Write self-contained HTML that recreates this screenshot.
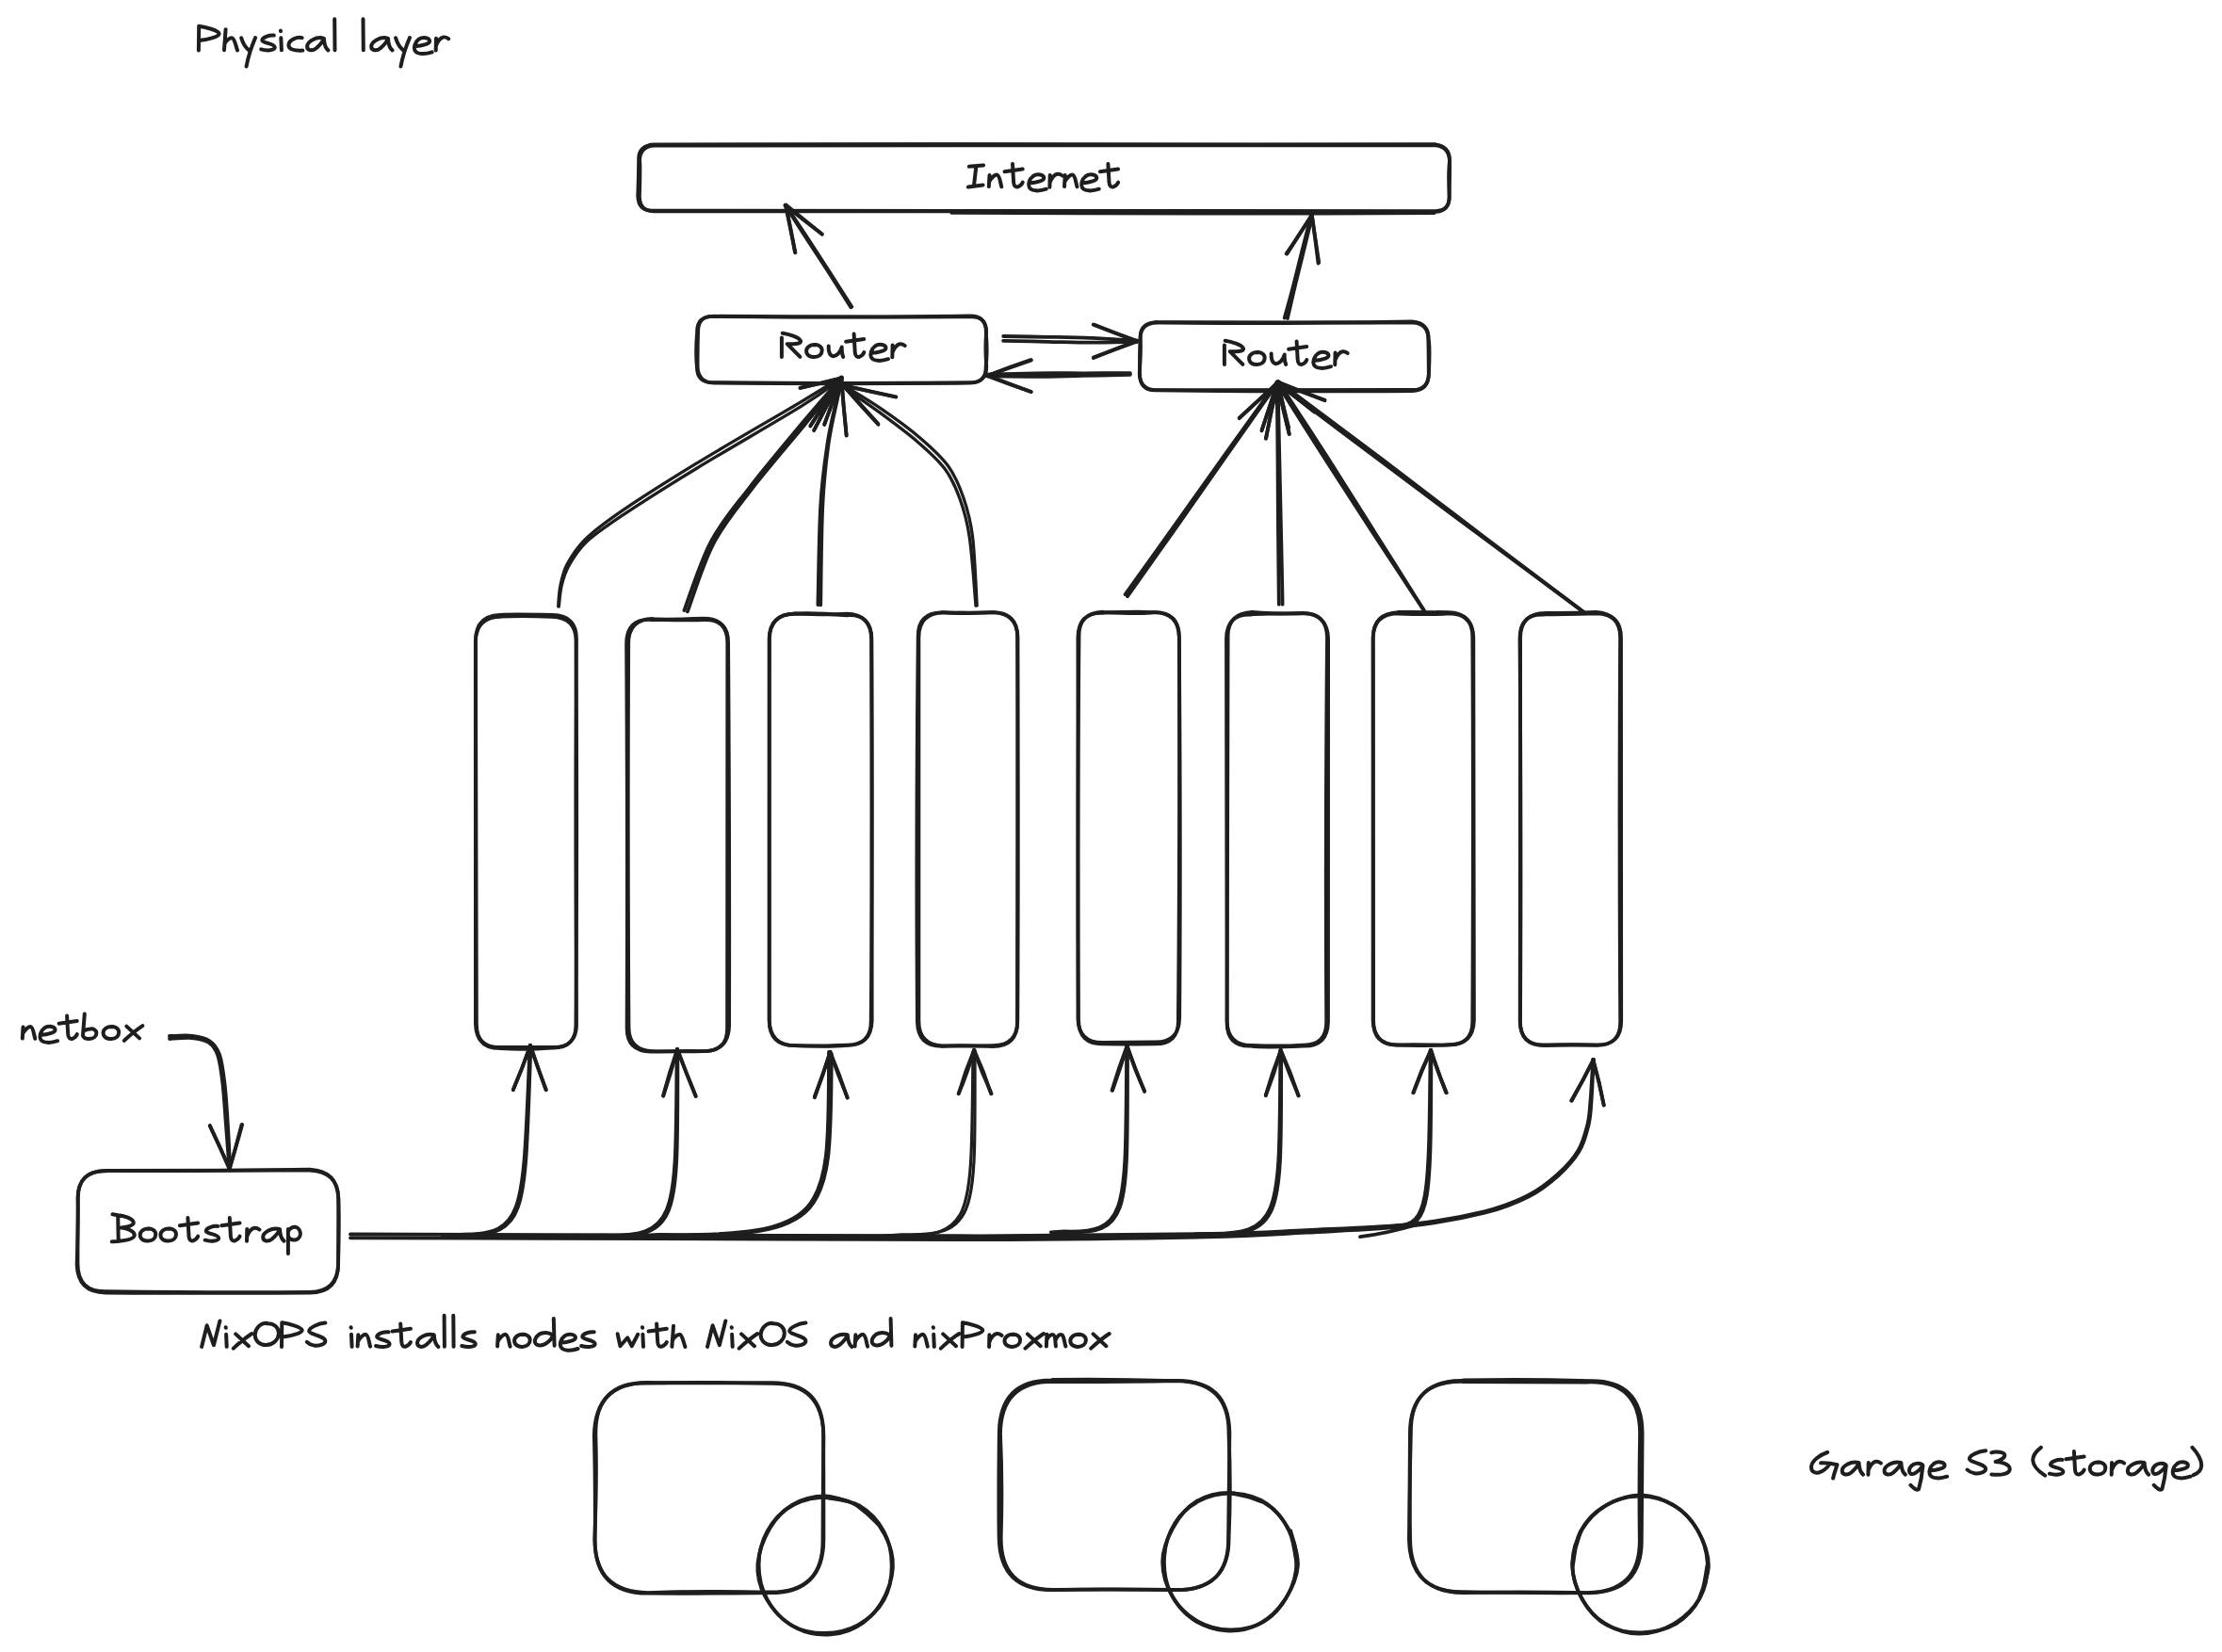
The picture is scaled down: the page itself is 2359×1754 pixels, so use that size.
<!DOCTYPE html>
<html><head><meta charset="utf-8"><title>Physical layer</title>
<style>
html,body{margin:0;padding:0;background:#fff;}
body{width:2359px;height:1754px;overflow:hidden;font-family:"Liberation Sans",sans-serif;}
svg{display:block}
svg path{fill:none;stroke:#1e1e1e;stroke-linecap:round;stroke-linejoin:round}
#labels path{stroke-width:4}
</style></head><body>
<svg width="2359" height="1754" viewBox="0 0 2359 1754">
<rect width="2359" height="1754" fill="#ffffff"/>
<g id="shapes">
<path d="M693.5 153.7 Q1109.8 154.4 1523.1 153.2 C1533.8 154.4 1539.1 159.7 1539 170.4 Q1537.4 183.9 1538.6 208.2 C1539.1 218.9 1533.8 224.2 1523.1 224.1 Q1109.8 225.5 693.5 223.7 C682.8 224.2 677.5 218.9 677.2 208.2 Q678 183.9 678.1 170.4 C677.5 159.7 682.8 154.4 693.6 153.6" stroke-width="3.8"/>
<path d="M695.2 154.6 Q1094.8 156.2 1522.8 154.1 C1533.5 154.9 1538.8 160.2 1538.9 170.9 Q1539.4 174.6 1538.7 208.8 C1538.8 219.5 1533.5 224.8 1522.8 224.8 Q1094.8 223 695.2 224.2 C684.5 224.8 679.2 219.5 678.9 208.8 Q679.9 174.6 679.1 170.9 C679.2 160.2 684.5 154.9 695 154.7" stroke-width="3.8"/>
<path d="M1010 226.3 Q1280 227.6 1523 226.4" stroke-width="3"/>
<path d="M690 153.2 Q1100 151.8 1524 154.6" stroke-width="3"/>
<path d="M756.9 335.7 Q883.2 337.1 1030 336.3 C1041.4 335.7 1047 341.3 1046.8 352.7 Q1048.7 374.1 1046.6 389.5 C1047 400.9 1041.4 406.5 1030 406.4 Q883.2 407.4 756.9 406.1 C745.5 406.5 739.9 400.9 739.9 389.5 Q738.2 374.1 740.1 352.7 C739.9 341.3 745.5 335.7 757.2 335.8" stroke-width="3.8"/>
<path d="M757.9 336 Q897.2 337.1 1030.1 335.4 C1041.4 335.5 1047.1 341.1 1047.2 352.5 Q1045.5 369.1 1047.3 389.2 C1047.1 400.6 1041.4 406.2 1030.1 406.4 Q897.2 408 757.9 406.6 C746.5 406.2 740.9 400.6 740.6 389.2 Q740.5 369.1 741.1 352.5 C740.9 341.1 746.5 335.5 757.3 335.9" stroke-width="3.8"/>
<path d="M1227.2 342.4 Q1348.5 343.9 1499.4 341.5 C1510.8 342.5 1516.4 348.2 1516.3 359.5 Q1516.6 368.5 1516.8 397.6 C1516.4 409 1510.8 414.6 1499.4 415 Q1348.5 416 1227.2 414.4 C1215.8 414.6 1210.2 409 1210.1 397.6 Q1209.7 368.5 1210.7 359.5 C1210.2 348.2 1215.8 342.5 1227.8 342.1" stroke-width="3.8"/>
<path d="M1227.2 342.2 Q1367 342.7 1499.7 342.6 C1511 343 1516.7 348.6 1516.7 360 Q1518.3 369 1516.9 397 C1516.7 408.4 1511 414 1499.7 414 Q1367 414.4 1227.2 414.2 C1215.8 414 1210.2 408.4 1209.7 397 Q1211.7 369 1210.6 360 C1210.2 348.6 1215.8 343 1227.7 342.5" stroke-width="3.8"/>
<path d="M531.4 652.9 Q541.4 652.1 586.5 653 C603.9 653.3 612.5 661.9 611.9 679.3 Q610.7 865.5 612 1086.3 C612.5 1103.7 603.9 1112.3 586.5 1111.8 Q541.4 1111.8 531.4 1111.8 C514 1112.3 505.4 1103.7 505.9 1086.3 Q505.9 865.5 505 679.3 C505.4 661.9 514 653.3 531.1 652.8" stroke-width="3.8"/>
<path d="M531.4 654.5 Q557.2 653.7 585.8 654.8 C603.2 655.1 611.8 663.7 611.5 681.1 Q613 883.5 611.4 1087.2 C611.8 1104.6 603.2 1113.2 585.8 1112.6 Q557.2 1114.8 531.4 1113.2 C514 1113.2 505.4 1104.6 504.9 1087.2 Q505.5 883.5 504.8 681.1 C505.4 663.7 514 655.1 531.4 654.9" stroke-width="3.8"/>
<path d="M693.2 657.2 Q707 658.1 747.5 656.7 C764.9 657.1 773.5 665.7 773.1 683.1 Q774.6 897.3 774.1 1089.7 C773.5 1107.1 764.9 1115.7 747.5 1116.1 Q707 1116.8 693.2 1116.1 C675.8 1115.7 667.2 1107.1 667.5 1089.7 Q666.2 897.3 667.2 683.1 C667.2 665.7 675.8 657.1 693 656.8" stroke-width="3.8"/>
<path d="M691.2 657.8 Q737.1 658.9 746.5 658.2 C763.9 657.1 772.5 665.7 772.3 683.1 Q771.5 884.7 772.1 1090.5 C772.5 1107.9 763.9 1116.5 746.5 1116.1 Q737.1 1115.4 691.2 1116.6 C673.7 1116.5 665.2 1107.9 665.6 1090.5 Q666.4 884.7 665.1 683.1 C665.2 665.7 673.7 657.1 691.4 658" stroke-width="3.8"/>
<path d="M843 651.5 Q880.9 653 898.8 651.6 C916.2 652 924.8 660.6 925.1 678 Q926.5 880.1 924.7 1084 C924.8 1101.4 916.2 1110 898.8 1109.9 Q880.9 1111.6 843 1110.2 C825.6 1110 817 1101.4 816.6 1084 Q815.7 880.1 816.6 678 C817 660.6 825.6 652 843.5 651.8" stroke-width="3.8"/>
<path d="M843.2 651.6 Q865.2 650.4 899.2 653.3 C916.6 652.2 925.2 660.7 925.4 678.2 Q925.3 882.9 925.7 1083.7 C925.2 1101.1 916.6 1109.7 899.2 1109.6 Q865.2 1111 843.2 1110.1 C825.7 1109.7 817.2 1101.1 816.8 1083.7 Q816.3 882.9 816.9 678.2 C817.2 660.7 825.7 652.2 842.8 651.7" stroke-width="3.8"/>
<path d="M1000.3 650.4 Q1021.3 651.8 1054 650.1 C1071.4 650.3 1080 658.9 1080.5 676.3 Q1080 879 1080 1085 C1080 1102.4 1071.4 1111 1054 1111 Q1021.3 1109.3 1000.3 1110.9 C982.9 1111 974.3 1102.4 973.9 1085 Q972.5 879 974.7 676.3 C974.3 658.9 982.9 650.3 999.9 650.4" stroke-width="3.8"/>
<path d="M1001.4 650.2 Q1030.1 651 1054.3 650.2 C1071.8 650.8 1080.3 659.4 1080.1 676.8 Q1081.3 891.8 1080.3 1084 C1080.3 1101.5 1071.8 1110 1054.3 1110.1 Q1030.1 1111 1001.4 1110.5 C984 1110 975.4 1101.5 975.4 1084 Q975.8 891.8 975.4 676.8 C975.4 659.4 984 650.8 1001.5 650.4" stroke-width="3.8"/>
<path d="M1171.3 650.6 Q1206.3 649.1 1225.4 650.1 C1242.8 649.9 1251.4 658.5 1251.9 675.9 Q1252.6 894.5 1250.9 1082.9 C1251.4 1100.3 1242.8 1108.9 1225.4 1108.4 Q1206.3 1108.7 1171.3 1108.3 C1153.9 1108.9 1145.3 1100.3 1145 1082.9 Q1143.7 894.5 1145.5 675.9 C1145.3 658.5 1153.9 649.9 1171.6 650.9" stroke-width="3.8"/>
<path d="M1170.6 650 Q1213.5 652 1225.8 650.1 C1243.2 650.4 1251.8 659 1251.8 676.4 Q1253.6 897.4 1252.2 1080.9 C1251.8 1098.4 1243.2 1106.9 1225.8 1106.5 Q1213.5 1106.7 1170.6 1107 C1153.2 1106.9 1144.6 1098.4 1144.4 1080.9 Q1143.5 897.4 1144.4 676.4 C1144.6 659 1153.2 650.4 1170.8 649.6" stroke-width="3.8"/>
<path d="M1329.1 650 Q1360.8 652.4 1382.5 651.3 C1399.9 650.6 1408.5 659.2 1409 676.6 Q1407 880.9 1408.2 1084.2 C1408.5 1101.6 1399.9 1110.2 1382.5 1109.6 Q1360.8 1111.2 1329.1 1109.9 C1311.7 1110.2 1303.1 1101.6 1302.7 1084.2 Q1302.8 880.9 1303.6 676.6 C1303.1 659.2 1311.7 650.6 1329.5 649.8" stroke-width="3.8"/>
<path d="M1328.2 652.2 Q1339.5 651.7 1383.6 650.9 C1401 652 1409.6 660.5 1410.1 678 Q1410.1 863.8 1410 1085.1 C1409.6 1102.5 1401 1111.1 1383.6 1110.6 Q1339.5 1112.4 1328.2 1110.6 C1310.7 1111.1 1302.2 1102.5 1302.6 1085.1 Q1302 863.8 1302 678 C1302.2 660.5 1310.7 652 1328.2 652.6" stroke-width="3.8"/>
<path d="M1484.1 650 Q1495.2 649.6 1537.5 650.2 C1554.9 650.7 1563.5 659.2 1563.3 676.7 Q1564.4 866.6 1563.3 1083.7 C1563.5 1101.1 1554.9 1109.7 1537.5 1109.7 Q1495.2 1108.5 1484.1 1109.5 C1466.7 1109.7 1458.1 1101.1 1457.6 1083.7 Q1457.2 866.6 1457.6 676.7 C1458.1 659.2 1466.7 650.7 1484.4 650.1" stroke-width="3.8"/>
<path d="M1484 651.6 Q1523.9 652.8 1538.3 651.4 C1555.8 651.6 1564.3 660.2 1564.3 677.6 Q1565 877.8 1564.9 1083.4 C1564.3 1100.8 1555.8 1109.4 1538.3 1109.2 Q1523.9 1110.6 1484 1109.6 C1466.5 1109.4 1458 1100.8 1458.1 1083.4 Q1457.6 877.8 1457.8 677.6 C1458 660.2 1466.5 651.6 1483.4 651.3" stroke-width="3.8"/>
<path d="M1639.5 652.3 Q1650.8 652.4 1695.3 651.3 C1712.7 651.8 1721.3 660.4 1721 677.8 Q1720.5 894.5 1721.2 1083.8 C1721.3 1101.2 1712.7 1109.8 1695.3 1109.4 Q1650.8 1109.6 1639.5 1109.5 C1622 1109.8 1613.5 1101.2 1614 1083.8 Q1615.2 894.5 1613.5 677.8 C1613.5 660.4 1622 651.8 1639.2 652.7" stroke-width="3.8"/>
<path d="M1640 650.8 Q1666.2 651.2 1694.4 650 C1711.8 651.2 1720.4 659.8 1720.1 677.2 Q1718.9 880.9 1720.2 1084.3 C1720.4 1101.7 1711.8 1110.3 1694.4 1109.8 Q1666.2 1108.6 1640 1110.1 C1622.6 1110.3 1614 1101.7 1613.7 1084.3 Q1614.4 880.9 1614.1 677.2 C1614 659.8 1622.6 651.2 1640.3 650.9" stroke-width="3.8"/>
<path d="M112.5 1243.1 Q240.1 1243.3 328.9 1241.6 C349 1242.7 358.9 1252.6 359.3 1272.7 Q360.3 1293.1 359.1 1341.6 C358.9 1361.7 349 1371.6 328.9 1371.9 Q240.1 1372.7 112.5 1371.1 C92.4 1371.6 82.5 1361.7 82.5 1341.6 Q82.5 1293.1 82.9 1272.7 C82.5 1252.6 92.4 1242.7 112.9 1243.3" stroke-width="3.8"/>
<path d="M112.2 1242.9 Q209.8 1242.9 328.9 1242.5 C349 1243.4 358.9 1253.3 359.3 1273.4 Q359.2 1289.2 359.1 1342.5 C358.9 1362.6 349 1372.5 328.9 1372.6 Q209.8 1373.1 112.2 1372.5 C92.1 1372.5 82.2 1362.6 81.6 1342.5 Q83.3 1289.2 82.5 1273.4 C82.2 1253.3 92.1 1243.4 112.2 1242.9" stroke-width="3.8"/>
<path d="M687.5 1468.6 Q735.6 1466.9 817.7 1468.9 C855.2 1468.2 873.7 1486.7 874.4 1524.2 Q873.7 1570.4 873.5 1635.3 C873.7 1672.8 855.2 1691.3 817.7 1691.2 Q735.6 1692.1 687.5 1691.7 C650 1691.3 631.5 1672.8 631.7 1635.3 Q632.1 1570.4 630.8 1524.2 C631.5 1486.7 650 1468.2 686.9 1468.4" stroke-width="3.8"/>
<path d="M687.7 1468 Q735.5 1468.6 818.4 1468.2 C855.9 1467.7 874.4 1486.2 874.1 1523.7 Q874.5 1569.9 874.4 1634.5 C874.4 1672.1 855.9 1690.5 818.4 1690.5 Q735.5 1688.8 687.7 1691.1 C650.2 1690.5 631.7 1672.1 631.3 1634.5 Q633.9 1569.9 632.4 1523.7 C631.7 1486.2 650.2 1467.7 687 1468" stroke-width="3.8"/>
<path d="M906.5 1595.9 C911 1600 926.9 1610.5 933.8 1620.5 C940.6 1630.5 946.6 1643.7 947.7 1655.7 C948.8 1667.7 945.7 1681.4 940.5 1692.5 C935.3 1703.7 926.5 1715.5 916.7 1722.6 C907 1729.8 893.9 1734.4 882.1 1735.4 C870.3 1736.5 856.7 1734.2 846 1728.9 C835.2 1723.6 824.4 1713.6 817.5 1703.5 C810.5 1693.4 805.2 1680.3 804.4 1668.3 C803.6 1656.4 807.5 1642.6 812.6 1631.6 C817.8 1620.6 825.8 1609.2 835.3 1602.3 C844.8 1595.4 858.1 1591.1 869.9 1590.1 C881.6 1589.1 895.1 1591.1 905.9 1596.2 C916.7 1601.3 930 1616.7 934.8 1620.8" stroke-width="3.8"/>
<path d="M876.2 1589.8 C882.2 1591.3 901.7 1592.5 912.1 1598.5 C922.5 1604.5 932.6 1615.3 938.3 1625.9 C944.1 1636.5 946.7 1650 946.7 1662.2 C946.7 1674.3 944.3 1688.2 938.4 1698.7 C932.4 1709.2 921.6 1719.3 911.2 1725.2 C900.8 1731 887.6 1733.9 875.8 1734 C864.1 1734.1 851 1731.6 840.8 1725.8 C830.6 1719.9 820.7 1709.5 814.8 1698.8 C809 1688.2 805.6 1674 805.6 1661.8 C805.5 1649.6 808.7 1636.4 814.6 1625.7 C820.4 1615 830.5 1604.1 840.8 1597.8 C851 1591.6 864.3 1588.3 876.2 1588.3 C888 1588.4 905.8 1596.4 911.8 1598.1" stroke-width="3.8"/>
<path d="M1118.3 1467.1 Q1193 1467.3 1249.1 1466 C1286.7 1466.7 1305.1 1485.1 1304.5 1522.7 Q1307.1 1575.4 1304.6 1632.1 C1305.1 1669.7 1286.7 1688.1 1249.1 1688.1 Q1193 1687.4 1118.3 1687.8 C1080.8 1688.1 1062.3 1669.7 1062.7 1632.1 Q1064.5 1575.4 1062 1522.7 C1062.3 1485.1 1080.8 1466.7 1118.6 1466.9" stroke-width="3.8"/>
<path d="M1117.2 1465 Q1171.2 1463.7 1248.7 1466.2 C1286.2 1465 1304.7 1483.5 1305.4 1521 Q1304.5 1593 1304.1 1632.5 C1304.7 1670 1286.2 1688.5 1248.7 1688 Q1171.2 1686.6 1117.2 1688.2 C1079.7 1688.5 1061.2 1670 1060.6 1632.5 Q1060 1593 1060.8 1521 C1061.2 1483.5 1079.7 1465 1117.3 1465.4" stroke-width="3.8"/>
<path d="M1305.7 1585.2 C1311.6 1586.8 1331 1588.8 1341.2 1594.9 C1351.5 1600.9 1361.1 1611.2 1367 1621.7 C1372.9 1632.2 1376.5 1645.6 1376.5 1657.7 C1376.5 1669.8 1372.7 1683.5 1366.9 1694.2 C1361.2 1704.9 1352 1715.7 1341.9 1721.7 C1331.8 1727.8 1318.1 1730.6 1306.3 1730.5 C1294.5 1730.4 1281.3 1727.1 1271.1 1721.2 C1260.8 1715.3 1250.9 1705.8 1244.8 1695.3 C1238.6 1684.8 1234.2 1670.5 1234.2 1658.3 C1234.3 1646.2 1239.3 1633 1245.3 1622.3 C1251.2 1611.6 1259.9 1600.4 1270 1594.2 C1280.1 1587.9 1293.9 1584.7 1305.7 1584.8 C1317.5 1584.9 1334.8 1593.2 1340.7 1594.8" stroke-width="3.8"/>
<path d="M1370.2 1625.1 C1371.5 1631.3 1378.9 1650.3 1377.9 1662.4 C1377 1674.5 1371.2 1687.6 1364.5 1697.9 C1357.8 1708.1 1348.2 1718.1 1337.7 1723.7 C1327.2 1729.3 1313.5 1732.1 1301.6 1731.4 C1289.8 1730.6 1276.5 1726.2 1266.6 1719.4 C1256.8 1712.6 1247.6 1701.6 1242.5 1690.6 C1237.5 1679.7 1235.4 1665.8 1236.1 1653.5 C1236.9 1641.3 1240.9 1627.3 1247.3 1617.2 C1253.6 1607.1 1263.7 1598.3 1274.2 1593.1 C1284.7 1587.8 1298.4 1585.1 1310.3 1585.7 C1322.1 1586.3 1335.6 1590.1 1345.3 1596.8 C1355.1 1603.4 1363.5 1614.9 1368.8 1625.8 C1374 1636.8 1375.6 1656.4 1376.9 1662.5" stroke-width="3.8"/>
<path d="M1552.7 1467.1 Q1611 1467 1685.2 1467.5 C1722.7 1466.3 1741.2 1484.8 1741.1 1522.3 Q1740 1576.8 1740.8 1634.5 C1741.2 1672.1 1722.7 1690.5 1685.2 1691.2 Q1611 1691.5 1552.7 1690.2 C1515.1 1690.5 1496.7 1672.1 1495.9 1634.5 Q1496.7 1576.8 1496.9 1522.3 C1496.7 1484.8 1515.1 1466.3 1552.5 1466.9" stroke-width="3.8"/>
<path d="M1553.5 1465.5 Q1613.9 1463.8 1687.3 1466.1 C1724.8 1465.2 1743.3 1483.7 1743.6 1521.2 Q1743.3 1574.7 1742.8 1634.6 C1743.3 1672.1 1724.8 1690.6 1687.3 1691.3 Q1613.9 1689.8 1553.5 1691.1 C1516 1690.6 1497.5 1672.1 1497.1 1634.6 Q1496.2 1574.7 1497.9 1521.2 C1497.5 1483.7 1516 1465.2 1553.2 1466" stroke-width="3.8"/>
<path d="M1669.7 1663 C1671.1 1656.9 1672.3 1636.7 1677.8 1626.1 C1683.3 1615.5 1692.5 1605.7 1702.7 1599.5 C1712.9 1593.3 1726.8 1589 1739 1588.7 C1751.1 1588.3 1765.3 1591.7 1775.7 1597.5 C1786.1 1603.2 1795.3 1613 1801.5 1623.2 C1807.6 1633.5 1812.1 1646.8 1812.7 1658.9 C1813.3 1671 1810.7 1685.1 1805.1 1695.9 C1799.5 1706.8 1789.7 1717.8 1779.3 1724 C1769 1730.2 1755.2 1733 1743 1733.3 C1730.9 1733.6 1716.7 1731.3 1706.3 1725.7 C1695.9 1720.1 1686.7 1709.9 1680.6 1699.5 C1674.4 1689 1669.7 1675.2 1669.3 1663 C1668.9 1650.9 1676.5 1632.7 1678 1626.6" stroke-width="3.8"/>
<path d="M1812.5 1662.3 C1811 1668.3 1809.6 1687.9 1803.6 1698.2 C1797.5 1708.5 1787 1718.2 1776.4 1724.3 C1765.7 1730.4 1751.8 1734.8 1739.7 1734.7 C1727.6 1734.5 1713.7 1729.8 1703.5 1723.4 C1693.4 1717 1684.6 1707 1678.9 1696.3 C1673.2 1685.7 1669.1 1671.8 1669.3 1659.7 C1669.5 1647.5 1673.8 1633.8 1679.9 1623.5 C1686 1613.2 1695.3 1604.1 1705.7 1598 C1716.1 1592 1730.2 1587.1 1742.3 1587.3 C1754.4 1587.5 1768.3 1592.9 1778.4 1599.3 C1788.6 1605.8 1797.2 1615.6 1803.1 1626.1 C1809 1636.6 1813.9 1650.1 1813.9 1662.3 C1813.9 1674.5 1805 1693 1803.2 1699.1" stroke-width="3.8"/>
<path d="M903.3 326.3 C899.5 320.3 888.4 302.6 880.8 290.7 C873.1 278.8 865.3 267.1 857.4 255 C849.6 242.9 837.6 224.2 833.7 218" stroke-width="3.8"/>
<path d="M904.3 325.7 C900.5 319.8 889.2 302.1 881.6 290.2 C873.9 278.3 866.2 266.4 858.3 254.3 C850.4 242.2 838.1 223.9 834.1 217.8" stroke-width="3.8"/>
<path d="M843.9 267.7 Q839.5 243.5 833.9 218" stroke-width="3.8"/>
<path d="M844.4 268.3 Q839.5 242.6 834.4 218.3" stroke-width="3.8"/>
<path d="M872.8 248.8 Q853.6 233.3 834.3 217.5" stroke-width="3.8"/>
<path d="M872.7 248.5 Q853.1 233.8 833.4 218.1" stroke-width="3.8"/>
<path d="M1363.7 337.6 C1365.4 331.6 1370.4 313.7 1373.5 301.7 C1376.7 289.6 1379.5 277.3 1382.6 265.1 C1385.7 252.9 1390.7 234.5 1392.3 228.3" stroke-width="3.8"/>
<path d="M1366.9 338 C1368.3 332 1372.4 313.9 1375.3 301.8 C1378.2 289.8 1381.3 278 1384.2 265.8 C1387.2 253.7 1391.7 234.9 1393.2 228.7" stroke-width="3.8"/>
<path d="M1366.4 269.5 Q1379.6 248.6 1392.9 228.2" stroke-width="3.8"/>
<path d="M1365.7 269.4 Q1379.7 248.7 1392.4 228.9" stroke-width="3.8"/>
<path d="M1399.5 279.6 Q1396.3 253.5 1392.8 228.1" stroke-width="3.8"/>
<path d="M1400.2 278.5 Q1396.6 253.9 1392.8 228.8" stroke-width="3.8"/>
<path d="M1065.2 357 C1072.9 357.2 1096.2 357.5 1111.8 357.8 C1127.4 358.1 1142.8 358.3 1158.7 358.9 C1174.5 359.6 1199.1 361.3 1207.2 361.7" stroke-width="3.8"/>
<path d="M1065.1 361.9 C1072.9 362 1096.3 362.5 1111.9 362.8 C1127.5 363.1 1142.7 363.7 1158.6 363.7 C1174.5 363.7 1199 362.9 1207.1 362.8" stroke-width="3.8"/>
<path d="M1160.7 344.8 Q1184.1 353.8 1206.6 361.9" stroke-width="3.8"/>
<path d="M1161.2 344.6 Q1183.7 353.8 1206.4 362.1" stroke-width="3.8"/>
<path d="M1160.8 379.6 Q1184.2 370.8 1207.4 362.4" stroke-width="3.8"/>
<path d="M1160.9 380.1 Q1183.5 370.7 1207.2 361.8" stroke-width="3.8"/>
<path d="M1199.8 397.9 C1191.5 398 1166.5 398.5 1149.8 398.9 C1133.1 399.2 1116.6 399.7 1099.6 399.8 C1082.6 399.8 1056.5 399.4 1047.9 399.3" stroke-width="3.8"/>
<path d="M1199.9 396.2 C1191.6 396.2 1166.8 396.3 1150 396.3 C1133.3 396.3 1116.6 396.1 1099.6 396.3 C1082.6 396.5 1056.7 397.4 1048.1 397.6" stroke-width="3.8"/>
<path d="M1094.9 382.4 Q1070.9 390.7 1047.9 399" stroke-width="3.8"/>
<path d="M1094.4 382.1 Q1071.5 389.8 1048.2 399" stroke-width="3.8"/>
<path d="M1094.8 416 Q1071 407.4 1047.6 398.2" stroke-width="3.8"/>
<path d="M1094.5 416 Q1071.5 407.8 1048.4 399.1" stroke-width="3.8"/>
<path d="M592.7 643.9 C593 640.2 593.3 629.4 594.9 622 C596.5 614.6 597.7 607.5 602 599.3 C606.4 591.2 611.6 582.2 621.1 572.9 C630.6 563.5 639.5 556.6 658.9 543.3 C678.4 530 706.4 512.1 737.9 492.9 C769.4 473.7 822.2 443.4 848 428.1 C873.8 412.8 885.1 405.5 892.6 401" stroke-width="3.3"/>
<path d="M593.3 643.9 C593.8 640.3 594.4 629.4 596.1 622.1 C597.9 614.9 599.5 608.4 604 600.5 C608.4 592.6 613.4 583.9 622.9 575 C632.5 566.1 641.7 559.9 661.2 546.9 C680.8 533.9 708.6 516.2 740.1 497 C771.6 477.8 824.6 447.5 850.2 431.7 C875.7 415.8 886.3 407 893.5 402" stroke-width="3.3"/>
<path d="M849.7 411.8 Q871.4 406.8 892.9 401.6" stroke-width="3.8"/>
<path d="M849.4 411.9 Q871.2 406.9 892.4 401.6" stroke-width="3.8"/>
<path d="M872.3 440.3 Q882.5 420.4 892.9 401.1" stroke-width="3.8"/>
<path d="M871.6 439.9 Q882.5 420.3 892.5 401.4" stroke-width="3.8"/>
<path d="M726.4 648.1 C731.1 635.9 743.2 596.9 754.8 575.1 C766.4 553.2 779.7 538.5 796 517.3 C812.4 496.1 836.9 467.1 852.9 447.8 C869 428.6 885.8 409.6 892.4 401.9" stroke-width="3.8"/>
<path d="M729.9 649.4 C734.5 637.3 746.1 598.7 757.5 577 C768.9 555.3 782 540.2 798.2 519 C814.5 497.9 839 469.5 854.9 450.2 C870.8 430.9 887.1 411.1 893.6 403.3" stroke-width="3.8"/>
<path d="M860.3 452.5 Q877 426.8 892.5 402.3" stroke-width="3.8"/>
<path d="M860.5 451.7 Q876.8 426.8 893.4 402.1" stroke-width="3.8"/>
<path d="M875.2 450.2 Q884.3 427 893 402.3" stroke-width="3.8"/>
<path d="M875.2 451 Q883.7 426.1 893.2 403" stroke-width="3.8"/>
<path d="M868.4 642.1 C868.9 624.6 869.5 565.4 871.2 537 C872.8 508.5 875.5 490.6 878.4 471.5 C881.3 452.5 886 434.4 888.5 422.7 C891 410.9 892.5 404.8 893.3 401.2" stroke-width="3.8"/>
<path d="M871.2 642.3 C871.5 624.8 871.9 565.4 873.3 537 C874.7 508.5 876.8 490.7 879.5 471.6 C882.1 452.6 886.8 434.5 889.2 422.8 C891.6 411.1 892.9 404.8 893.7 401.2" stroke-width="3.8"/>
<path d="M864.3 456.5 Q878.7 428.6 893.9 400.7" stroke-width="3.8"/>
<path d="M864.1 457.2 Q878.9 429.6 893.3 400.4" stroke-width="3.8"/>
<path d="M898.6 462.6 Q895.4 431.4 893.5 401.5" stroke-width="3.8"/>
<path d="M898.7 462.1 Q895.6 431.5 892.9 400.8" stroke-width="3.8"/>
<path d="M1036 643 C1034.9 630.8 1032.1 589 1029.2 570 C1026.4 551.1 1023.4 541.6 1019 529.5 C1014.7 517.4 1010.4 507.7 1002.9 497.6 C995.3 487.4 985.3 478.7 973.7 468.7 C962.1 458.7 946 446.9 933.1 437.4 C920.2 427.9 902.5 416.1 896.3 411.9" stroke-width="3.3"/>
<path d="M1037.2 643 C1036.4 630.8 1034.9 588.6 1032.5 569.5 C1030.1 550.4 1027.1 540.7 1022.8 528.2 C1018.5 515.8 1014.2 505.3 1006.6 494.8 C998.9 484.3 988.6 475.1 976.8 465 C965 454.9 949 443.3 935.7 434.2 C922.5 425 903.9 414.3 897.5 410.3" stroke-width="3.3"/>
<path d="M950.7 421.5 Q922.8 415.5 895.4 409.4" stroke-width="3.8"/>
<path d="M951.4 421.4 Q922.7 415.5 895.6 409.2" stroke-width="3.8"/>
<path d="M932.4 450 Q914 429.9 895.7 408.7" stroke-width="3.8"/>
<path d="M932.4 450.8 Q913.4 430.3 895.3 409.5" stroke-width="3.8"/>
<path d="M1194.6 631.1 C1203.5 618.7 1230.2 581.5 1247.9 556.7 C1265.6 531.9 1282.9 507.3 1300.9 482.1 C1318.9 456.9 1346.7 418.3 1355.8 405.5" stroke-width="3.8"/>
<path d="M1197 633.1 C1205.8 620.6 1232.3 583.3 1249.9 558.3 C1267.4 533.3 1284.7 508.5 1302.5 483.2 C1320.3 457.8 1347.6 419 1356.7 406.2" stroke-width="3.8"/>
<path d="M1315.7 444.2 Q1336.5 425 1356.9 405.7" stroke-width="3.8"/>
<path d="M1315.7 443.7 Q1336.6 424.4 1356.6 406.5" stroke-width="3.8"/>
<path d="M1339.7 456.6 Q1348 431.2 1356 406.5" stroke-width="3.8"/>
<path d="M1339.4 457.4 Q1347.9 431.6 1356.3 406.4" stroke-width="3.8"/>
<path d="M1357.8 641.7 C1357.7 628.8 1357.2 589.9 1357 563.9 C1356.8 538 1356.7 512.3 1356.5 486 C1356.3 459.7 1355.9 419.4 1355.7 406.1" stroke-width="3.8"/>
<path d="M1361.6 641.7 C1361.4 628.7 1360.6 589.4 1360 563.5 C1359.5 537.6 1358.8 512.6 1358.3 486.3 C1357.7 460 1356.9 419.2 1356.6 405.8" stroke-width="3.8"/>
<path d="M1344.2 465.5 Q1349.6 435.1 1356.5 406.3" stroke-width="3.8"/>
<path d="M1343.8 465.7 Q1349.6 435.8 1356.7 406.5" stroke-width="3.8"/>
<path d="M1368.8 461 Q1361.8 433.7 1355.8 405.6" stroke-width="3.8"/>
<path d="M1368.7 460.9 Q1361.8 432.7 1356.5 406.4" stroke-width="3.8"/>
<path d="M1511.6 648 C1502.9 634.7 1476.6 594.9 1459.3 568.4 C1442.1 541.9 1425.2 516 1407.9 489 C1390.6 462 1364.3 420.1 1355.6 406.4" stroke-width="3.8"/>
<path d="M1511.6 647.7 C1503.2 634.4 1478 594.5 1461.1 567.7 C1444.3 541 1427.7 514.3 1410.4 487.3 C1393.1 460.3 1366.1 419.2 1357.2 405.6" stroke-width="3.8"/>
<path d="M1367.4 454.4 Q1362.8 430.5 1356.2 406.4" stroke-width="3.8"/>
<path d="M1368.2 454.1 Q1362 430.6 1356.9 405.3" stroke-width="3.8"/>
<path d="M1394.7 436.5 Q1376.4 421 1356.7 406.8" stroke-width="3.8"/>
<path d="M1395.5 437.5 Q1375.1 421.5 1355.8 406" stroke-width="3.8"/>
<path d="M1681.6 650.3 C1663.7 637 1609.8 597 1573.9 570.2 C1538 543.5 1502.4 517.1 1466.1 489.8 C1429.7 462.6 1374.2 420.6 1355.8 406.8" stroke-width="3.8"/>
<path d="M1681.7 650 C1663.8 636.5 1610.1 596.2 1574.5 569.2 C1538.9 542.2 1504.1 515.4 1467.9 488.1 C1431.6 460.7 1375.5 418.9 1357 405.1" stroke-width="3.8"/>
<path d="M1406.5 424.7 Q1381 415.5 1356.8 405.4" stroke-width="3.8"/>
<path d="M1406.5 425.2 Q1380.8 415.3 1356.2 406.5" stroke-width="3.8"/>
<path d="M1385 451.3 Q1370.3 428.5 1356.6 406.2" stroke-width="3.8"/>
<path d="M1384.6 451.4 Q1370.5 428.3 1356.5 406.3" stroke-width="3.8"/>
<path d="M179.9 1100 C183.9 1100 197.1 1099 204.2 1099.8 C211.3 1100.7 217.7 1101.9 222.5 1105.2 C227.3 1108.5 230.4 1112.2 233 1119.6 C235.7 1127.1 236.9 1137.3 238.4 1149.8 C239.9 1162.4 241 1179.8 241.9 1195 C242.9 1210.2 243.8 1233.3 244.1 1240.9" stroke-width="3.8"/>
<path d="M180 1103 C184 1102.8 197 1101.5 203.9 1102.1 C210.8 1102.8 216.9 1103.7 221.4 1106.8 C225.9 1109.8 228.6 1113.1 231.2 1120.4 C233.7 1127.6 234.9 1137.8 236.4 1150.2 C237.9 1162.7 238.8 1179.9 240 1195 C241.2 1210.2 242.9 1233.4 243.5 1241.1" stroke-width="3.8"/>
<path d="M222.7 1195.1 Q233.6 1217.9 243.4 1240.7" stroke-width="3.8"/>
<path d="M222.9 1195.3 Q233.3 1217.5 244 1241" stroke-width="3.8"/>
<path d="M256.6 1194.1 Q250.5 1217.5 243.7 1241.2" stroke-width="3.8"/>
<path d="M257.1 1194.2 Q250.8 1217.4 243.7 1240.7" stroke-width="3.8"/>
<path d="M480.9 1311.5 L493 1310.7 C559 1310 555 1284.5 562.6 1110" stroke-width="3.8"/>
<path d="M480.8 1312.3 L495 1311.4 C561 1310.8 557 1285.3 563.4 1112" stroke-width="3.8"/>
<path d="M544.8 1157.2 Q554.8 1133.9 563.2 1109.9" stroke-width="3.8"/>
<path d="M544.8 1156.9 Q554.7 1133.8 563 1110.1" stroke-width="3.8"/>
<path d="M579.9 1157.3 Q570.7 1133.8 562.9 1109.8" stroke-width="3.8"/>
<path d="M579.4 1156.8 Q571.1 1133.4 563.1 1110.2" stroke-width="3.8"/>
<path d="M626.8 1312.2 L641 1311.7 C722 1313.5 717 1290.5 718.6 1114" stroke-width="3.8"/>
<path d="M627.8 1312.9 L643 1312.3 C724 1314.3 719 1291.3 719.4 1116" stroke-width="3.8"/>
<path d="M704 1163.4 Q710.5 1138.7 719.2 1113.9" stroke-width="3.8"/>
<path d="M704.3 1163.7 Q712.4 1139.1 719.1 1114.1" stroke-width="3.8"/>
<path d="M738.6 1163.9 Q728.3 1139.1 719 1114.1" stroke-width="3.8"/>
<path d="M738.8 1163.9 Q728.5 1138.9 719.2 1114.2" stroke-width="3.8"/>
<path d="M688 1312.1 L699.1 1311 C884.5 1313 879.5 1290 880 1117" stroke-width="3.8"/>
<path d="M684.7 1313.1 L700.9 1311.7 C886.3 1314 881.3 1291 882.8 1119" stroke-width="3.8"/>
<path d="M864.9 1165.3 Q873.9 1141.5 881.2 1117.1" stroke-width="3.8"/>
<path d="M864.7 1164.7 Q873.6 1141 881.6 1116.9" stroke-width="3.8"/>
<path d="M899.5 1165.5 Q891.5 1140.8 881.2 1116.8" stroke-width="3.8"/>
<path d="M899.8 1165.5 Q889.7 1141.6 881.4 1117.1" stroke-width="3.8"/>
<path d="M939.3 1312 L957.1 1310.8 C1040.1 1313 1035.1 1290 1035 1115" stroke-width="3.2"/>
<path d="M940.2 1312.7 L952.9 1311.8 C1035.9 1314 1030.9 1291 1033 1117" stroke-width="3.2"/>
<path d="M1017.7 1161.3 Q1027.5 1138.6 1034.1 1114.8" stroke-width="3.8"/>
<path d="M1017.8 1161.1 Q1024.6 1137.3 1034 1115.2" stroke-width="3.8"/>
<path d="M1052.2 1161.3 Q1044.6 1137.4 1034.1 1114.8" stroke-width="3.8"/>
<path d="M1052.6 1161.3 Q1042.2 1138.7 1034.1 1115.2" stroke-width="3.8"/>
<path d="M1115.8 1308.4 L1130 1307.5 C1199.6 1309.5 1194.6 1286.5 1196.2 1110.5" stroke-width="3.8"/>
<path d="M1118 1309.1 L1132 1308.5 C1201.6 1310.3 1196.6 1287.3 1197 1112.5" stroke-width="3.8"/>
<path d="M1181.1 1157.7 Q1189.5 1134.4 1196.6 1110.5" stroke-width="3.8"/>
<path d="M1180.5 1157.8 Q1187.7 1133.5 1196.7 1110.3" stroke-width="3.8"/>
<path d="M1215.1 1159 Q1205.2 1134.9 1196.5 1110.5" stroke-width="3.8"/>
<path d="M1215.1 1158.3 Q1204.3 1135.1 1196.7 1110.6" stroke-width="3.8"/>
<path d="M1269.7 1310.2 L1281 1309.8 C1362.8 1311.5 1357.8 1288.5 1359.4 1115" stroke-width="3.8"/>
<path d="M1268 1311.1 L1283 1310.5 C1364.8 1312.3 1359.8 1289.3 1360.2 1117" stroke-width="3.8"/>
<path d="M1343.7 1163.1 Q1350.5 1138.8 1359.9 1114.9" stroke-width="3.8"/>
<path d="M1343.8 1163.3 Q1353.1 1139.9 1359.7 1114.8" stroke-width="3.8"/>
<path d="M1378.6 1163.4 Q1368.5 1139.7 1359.7 1115" stroke-width="3.8"/>
<path d="M1378.6 1163.3 Q1370.5 1139 1359.7 1115" stroke-width="3.8"/>
<path d="M1476.5 1303 L1483 1301.7 C1517 1300 1517 1275 1518.6 1115" stroke-width="3.8"/>
<path d="M1476.9 1303.8 L1485 1302.8 C1519 1300.8 1519 1275.8 1519.4 1117" stroke-width="3.8"/>
<path d="M1500.2 1160.3 Q1508.6 1136.7 1519 1115.1" stroke-width="3.8"/>
<path d="M1500.7 1160.1 Q1508.9 1137.4 1519.1 1115.1" stroke-width="3.8"/>
<path d="M1535.2 1160.1 Q1526.5 1137.6 1519.1 1114.8" stroke-width="3.8"/>
<path d="M1535.8 1160.3 Q1525.9 1137.5 1519.1 1114.9" stroke-width="3.8"/>
<path d="M372 1310.5 C426.7 1310.7 588.7 1311.1 700 1311.4 C811.3 1311.7 943.3 1312.5 1040 1312.3 C1136.7 1312.1 1222.1 1311.2 1280 1310.2 C1337.8 1309.2 1350.8 1307.8 1386.9 1306.1 C1423.1 1304.4 1465.4 1303.2 1496.9 1299.9 C1528.4 1296.6 1554.9 1291.4 1575.8 1286.3 C1596.8 1281.1 1609.7 1275.5 1622.7 1269 C1635.6 1262.4 1644.7 1254.9 1653.5 1247 C1662.3 1239.1 1670.1 1230.5 1675.4 1221.7 C1680.8 1212.8 1683.2 1202.6 1685.4 1193.9 C1687.6 1185.1 1687.5 1180.4 1688.5 1169 C1689.5 1157.5 1690.8 1132.3 1691.3 1125" stroke-width="3.8"/>
<path d="M372 1314.3 C426.7 1314.4 588.7 1314.9 700 1315.2 C811.3 1315.5 943.3 1316.4 1040 1316.1 C1136.7 1315.8 1222.2 1314.6 1280 1313.4 C1337.9 1312.2 1350.9 1310.6 1387.1 1308.7 C1423.2 1306.7 1465.6 1305.2 1497.1 1301.7 C1528.6 1298.2 1555.1 1293 1576.2 1287.7 C1597.2 1282.5 1610.3 1276.8 1623.3 1270.2 C1636.4 1263.6 1645.6 1256 1654.5 1248 C1663.3 1240 1671.2 1231.3 1676.6 1222.3 C1681.9 1213.4 1684.4 1203 1686.6 1194.1 C1688.7 1185.3 1688.6 1180.6 1689.5 1169 C1690.4 1157.5 1691.3 1132.3 1691.7 1125" stroke-width="3.8"/>
<path d="M470 1312.8 C508.3 1312.9 605 1313.1 700 1313.3 C795 1313.5 943.3 1314.5 1040 1314.2 C1136.7 1314 1222.2 1312.9 1280 1311.8 C1337.8 1310.7 1350.8 1309.2 1387 1307.4 C1423.2 1305.6 1478.7 1301.9 1497 1300.8" stroke-width="3.8"/>
<path d="M1444 1313.2 Q1475 1309 1503 1300.5" stroke-width="3.8"/>
<path d="M1668.1 1168.6 Q1680.9 1146.9 1691.7 1125.1" stroke-width="3.8"/>
<path d="M1668.7 1168.7 Q1680.7 1147.4 1691.7 1125" stroke-width="3.8"/>
<path d="M1702.8 1173.5 Q1698.1 1149.3 1691.3 1125.2" stroke-width="3.8"/>
<path d="M1702.7 1173.4 Q1698.1 1149.1 1691.4 1125.1" stroke-width="3.8"/>
</g>
<g id="labels">
<g role="img" aria-label="Physical layer"><title>Physical layer</title><path d="M211.2 27.7L210.9 53.4M211.2 27.7C217.6 28.7 232.1 32.2 232.6 35.7C232.6 39.2 220.6 41.7 213.4 42.7M239.6 31.2L238 53.2M238.4 46.7C240 43.2 244 39.7 246.6 40.4C249 41.2 250.5 49.2 252 53.4M256.2 40.2C257.6 45.2 260.6 50.2 264.1 53.2M271.1 40C267.6 48.2 263.6 59.2 261.6 70.5M290.8 37.6C285.3 37.2 278.8 39.7 278.3 42.7C278.3 45.7 291.6 46.2 291.8 50.2C291.6 53.7 283.3 54.2 277.3 52.4M298.3 40.2L298.9 53.2M297.9 32.6L298 33.1M320.6 40.2C315.6 38.7 306.6 42.2 306.4 47.8C306.4 52.2 311.6 54 321.3 53.6M343.9 40.8C335.7 38.2 326.2 44.2 326.1 49.2C326.1 54 331.7 54.4 335.7 51.2C339.7 47.7 342.7 44.2 343.9 40.8C344.2 46.2 345.7 51.2 348.4 53.3M355.2 20.2L355.5 53.2M385.5 20.2L385.8 53.2M412 40.8C403.8 38.2 394.3 44.2 394.2 49.2C394.2 54 399.8 54.4 403.8 51.2C407.8 47.7 410.8 44.2 412 40.8C412.3 46.2 413.8 51.2 416.5 53.3M420.1 40.2C421.5 45.2 424.5 50.2 428 53.2M435 40C431.5 48.2 427.5 59.2 425.5 70.5M441.6 48.9C447.1 48.7 456.1 46.7 456.1 43.7C456.1 40.2 449.1 38.7 444.6 41.7C440.6 44.7 438.9 50.2 440.6 53.7C443.1 57.8 451.1 58 458.6 55.4M463 40.7L462.7 53.4M463.1 48.2C464.3 44.2 467.8 39.7 470.8 39.4C473 39.2 474.8 40.2 476.1 41.2"/></g>
<g role="img" aria-label="Internet"><title>Internet</title><path d="M1028.8 176.8L1044.1 175.5M1036.4 176.3L1033.9 197.7M1027.9 198.6L1043.6 196.4M1050.5 186L1049.8 198.1M1050.1 193.2C1052 189.5 1056 185 1058.6 185.6C1061.5 186.5 1062 194.5 1063.3 198.3M1066.5 182.3L1085.7 179.5M1075 174.1L1076.1 193.5C1076.3 198 1078.6 199 1080.6 198.3C1082.9 197.5 1084.9 195.5 1085.7 193.7M1093.8 194.2C1099.3 194 1108.3 192 1108.3 189C1108.3 185.5 1101.3 184 1096.8 187C1092.8 190 1091.1 195.5 1092.8 199C1095.3 203.1 1103.3 203.3 1110.8 200.7M1114.7 186L1114.4 198.7M1114.8 193.5C1116 189.5 1119.5 185 1122.5 184.7C1124.7 184.5 1126.5 185.5 1127.8 186.5M1130.7 186L1130 198.1M1130.3 193.2C1132.2 189.5 1136.2 185 1138.8 185.6C1141.7 186.5 1142.2 194.5 1143.5 198.3M1149.8 194.2C1155.3 194 1164.3 192 1164.3 189C1164.3 185.5 1157.3 184 1152.8 187C1148.8 190 1147.1 195.5 1148.8 199C1151.3 203.1 1159.3 203.3 1166.8 200.7M1167.9 182.3L1187.1 179.5M1176.4 174.1L1177.5 193.5C1177.7 198 1180 199 1182 198.3C1184.3 197.5 1186.3 195.5 1187.1 193.7"/></g>
<g role="img" aria-label="Router"><title>Router</title><path d="M829.9 358.5L829.9 379.1M830.7 353.7C836.1 354.5 849.1 358 850.1 362.3C850.1 365.5 841.1 365.5 835.7 365.2L849.4 378.9M866.5 366.2C860.5 365.2 856 369 856.1 372.8C856.2 377.3 860.5 379.3 864.5 379.1C869.5 378.8 872.7 376 872.7 372C872.7 368 868.5 365.4 864.5 366.2M879.7 367.5C879.3 373 880.8 378 884.7 378.2C888.3 378.3 892.3 374 893.7 368.5C893.6 373 894.1 376.5 895.2 378.9M898.1 362.8L917.3 360M906.6 354.6L907.7 374C907.9 378.5 910.2 379.5 912.2 378.8C914.5 378 916.5 376 917.3 374.2M926 374.7C931.5 374.5 940.5 372.5 940.5 369.5C940.5 366 933.5 364.5 929 367.5C925 370.5 923.3 376 925 379.5C927.5 383.6 935.5 383.8 943 381.2M947.6 366.5L947.3 379.2M947.7 374C948.9 370 952.4 365.5 955.4 365.2C957.6 365 959.4 366 960.7 367"/></g>
<g role="img" aria-label="Router"><title>Router</title><path d="M1299.9 366.5L1299.9 387.1M1300.7 361.7C1306.1 362.5 1319.1 366 1320.1 370.3C1320.1 373.5 1311.1 373.5 1305.7 373.2L1319.4 386.9M1336.5 374.2C1330.5 373.2 1326 377 1326.1 380.8C1326.2 385.3 1330.5 387.3 1334.5 387.1C1339.5 386.8 1342.7 384 1342.7 380C1342.7 376 1338.5 373.4 1334.5 374.2M1349.7 375.5C1349.3 381 1350.8 386 1354.7 386.2C1358.3 386.3 1362.3 382 1363.7 376.5C1363.6 381 1364.1 384.5 1365.2 386.9M1368.1 370.8L1387.3 368M1376.6 362.6L1377.7 382C1377.9 386.5 1380.2 387.5 1382.2 386.8C1384.5 386 1386.5 384 1387.3 382.2M1396 382.7C1401.5 382.5 1410.5 380.5 1410.5 377.5C1410.5 374 1403.5 372.5 1399 375.5C1395 378.5 1393.3 384 1395 387.5C1397.5 391.6 1405.5 391.8 1413 389.2M1417.6 374.5L1417.3 387.2M1417.7 382C1418.9 378 1422.4 373.5 1425.4 373.2C1427.6 373 1429.4 374 1430.7 375"/></g>
<g role="img" aria-label="netbox"><title>netbox</title><path d="M24.5 1090.5L23.8 1102.6M24.1 1097.7C26 1094 30 1089.5 32.6 1090.1C35.5 1091 36 1099 37.3 1102.8M44.1 1098.7C49.6 1098.5 58.6 1096.5 58.6 1093.5C58.6 1090 51.6 1088.5 47.1 1091.5C43.1 1094.5 41.4 1100 43.1 1103.5C45.6 1107.6 53.6 1107.8 61.1 1105.2M62.6 1086.8L81.8 1084M71.1 1078.6L72.2 1098C72.4 1102.5 74.7 1103.5 76.7 1102.8C79 1102 81 1100 81.8 1098.2M89.8 1076.5L88 1099.6C88.9 1102.3 92.4 1103.1 94.9 1103.1C98.9 1102.9 102.4 1100.5 102.4 1096.7C102.2 1093.5 98.9 1092 95.9 1092.4C92.9 1092.7 89.9 1093.5 88.7 1094.7M120 1090.2C114 1089.2 109.5 1093 109.6 1096.8C109.7 1101.3 114 1103.3 118 1103.1C123 1102.8 126.2 1100 126.2 1096C126.2 1092 122 1089.4 118 1090.2M134.3 1089.6L148.1 1102.4M151.4 1089.2C144.1 1094 137.1 1100 131.9 1104.8"/></g>
<g role="img" aria-label="Bootstrap"><title>Bootstrap</title><path d="M119.5 1289.2L125.2 1290.2L125.7 1317.3M125.2 1290.2C130.9 1290.5 141.4 1293.5 141.8 1298C141.9 1301.5 133.9 1303 128.8 1303.6C134.9 1304 142.4 1307 142.8 1311.2C142.9 1316 131.9 1317.7 118.8 1318.3M159.1 1304.7C153.1 1303.7 148.6 1307.5 148.7 1311.3C148.8 1315.8 153.1 1317.8 157.1 1317.6C162.1 1317.3 165.3 1314.5 165.3 1310.5C165.3 1306.5 161.1 1303.9 157.1 1304.7M180.8 1304.7C174.8 1303.7 170.3 1307.5 170.4 1311.3C170.5 1315.8 174.8 1317.8 178.8 1317.6C183.8 1317.3 187 1314.5 187 1310.5C187 1306.5 182.8 1303.9 178.8 1304.7M190.9 1301.3L210.1 1298.5M199.4 1293.1L200.5 1312.5C200.7 1317 203 1318 205 1317.3C207.3 1316.5 209.3 1314.5 210.1 1312.7M231.2 1301.9C225.7 1301.5 219.2 1304 218.7 1307C218.7 1310 232 1310.5 232.2 1314.5C232 1318 223.7 1318.5 217.7 1316.7M235.3 1301.3L254.5 1298.5M243.8 1293.1L244.9 1312.5C245.1 1317 247.4 1318 249.4 1317.3C251.7 1316.5 253.7 1314.5 254.5 1312.7M262.3 1305L262 1317.7M262.4 1312.5C263.6 1308.5 267.1 1304 270.1 1303.7C272.3 1303.5 274.1 1304.5 275.4 1305.5M297 1305.1C288.8 1302.5 279.3 1308.5 279.2 1313.5C279.2 1318.3 284.8 1318.7 288.8 1315.5C292.8 1312 295.8 1308.5 297 1305.1C297.3 1310.5 298.8 1315.5 301.5 1317.6M305.9 1305L305.9 1330.9M305.9 1307.5C308 1304 311 1302.5 313.5 1302.8C317 1303.5 319 1307 318.9 1310.4C318.5 1314.5 315 1316.7 311.6 1316.6C309 1316.5 307.5 1315 306.5 1313.5"/></g>
<g role="img" aria-label="NixOPS installs nodes with NixOS and nixProxmox"><title>NixOPS installs nodes with NixOS and nixProxmox</title><path d="M214.1 1429.9L219.7 1407.3L226.9 1428.2L233.4 1402.5M240.1 1416.8L240.7 1429.8M239.7 1409.2L239.8 1409.7M250.2 1416.4L264 1429.2M267.3 1416C260 1420.8 253 1426.8 247.8 1431.6M283.2 1404.8C276.2 1404.8 270.7 1410.8 270.7 1417.3C270.7 1423.8 276.2 1428.3 282.7 1428.1C290.2 1427.8 295.7 1422.3 295.9 1415.8C296 1409.8 291.2 1404.8 283.2 1405.3M299.3 1404.3L299 1430M299.3 1404.3C305.7 1405.3 320.2 1408.8 320.7 1412.3C320.7 1415.8 308.7 1418.3 301.5 1419.3M345.4 1404.6C337.6 1405.3 328.6 1409.3 328.1 1413.3C328.1 1416.8 345.1 1418.3 345.4 1423.8C345.4 1427.8 337.6 1429.2 333.6 1428.6C330.6 1428 327.6 1426.6 325.9 1424.8M373 1416.8L373.6 1429.8M372.6 1409.2L372.7 1409.7M380.3 1417.3L379.6 1429.4M379.9 1424.5C381.8 1420.8 385.8 1416.3 388.4 1416.9C391.3 1417.8 391.8 1425.8 393.1 1429.6M412.6 1414.2C407.1 1413.8 400.6 1416.3 400.1 1419.3C400.1 1422.3 413.4 1422.8 413.6 1426.8C413.4 1430.3 405.1 1430.8 399.1 1429M416.7 1413.6L435.9 1410.8M425.2 1405.4L426.3 1424.8C426.5 1429.3 428.8 1430.3 430.8 1429.6C433.1 1428.8 435.1 1426.8 435.9 1425M460.8 1417.4C452.6 1414.8 443.1 1420.8 443 1425.8C443 1430.6 448.6 1431 452.6 1427.8C456.6 1424.3 459.6 1420.8 460.8 1417.4C461.1 1422.8 462.6 1427.8 465.3 1429.9M471.6 1396.8L471.9 1429.8M481.3 1396.8L481.6 1429.8M503.8 1414.2C498.3 1413.8 491.8 1416.3 491.3 1419.3C491.3 1422.3 504.6 1422.8 504.8 1426.8C504.6 1430.3 496.3 1430.8 490.3 1429M528.8 1417.3L528.1 1429.4M528.4 1424.5C530.3 1420.8 534.3 1416.3 536.9 1416.9C539.8 1417.8 540.3 1425.8 541.6 1429.6M556.5 1417C550.5 1416 546 1419.8 546.1 1423.6C546.2 1428.1 550.5 1430.1 554.5 1429.9C559.5 1429.6 562.7 1426.8 562.7 1422.8C562.7 1418.8 558.5 1416.2 554.5 1417M586.7 1417.3C582.2 1414.3 576.2 1414.3 572.2 1416.8C568.7 1419.3 567.2 1423.3 568.2 1425.8C569.7 1429.3 575.2 1429.3 579.2 1426.8C583.2 1424.3 586.2 1420.8 587.2 1417.3M587.8 1400L588.6 1428.8M596.5 1425.5C602 1425.3 611 1423.3 611 1420.3C611 1416.8 604 1415.3 599.5 1418.3C595.5 1421.3 593.8 1426.8 595.5 1430.3C598 1434.4 606 1434.6 613.5 1432M630.7 1414.2C625.2 1413.8 618.7 1416.3 618.2 1419.3C618.2 1422.3 631.5 1422.8 631.7 1426.8C631.5 1430.3 623.2 1430.8 617.2 1429M655.7 1416.3L658.4 1429.2L666.2 1420.3L670.7 1429.2L677.2 1416.8M682.4 1416.8L683 1429.8M682 1409.2L682.1 1409.7M688.6 1413.6L707.8 1410.8M697.1 1405.4L698.2 1424.8C698.4 1429.3 700.7 1430.3 702.7 1429.6C705 1428.8 707 1426.8 707.8 1425M715 1407.8L713.4 1429.8M713.8 1423.3C715.4 1419.8 719.4 1416.3 722 1417C724.4 1417.8 725.9 1425.8 727.4 1430M751 1429.9L756.6 1407.3L763.8 1428.2L770.3 1402.5M777.1 1416.8L777.7 1429.8M776.7 1409.2L776.8 1409.7M787.1 1416.4L800.9 1429.2M804.2 1416C796.9 1420.8 789.9 1426.8 784.7 1431.6M820.1 1404.8C813.1 1404.8 807.6 1410.8 807.6 1417.3C807.6 1423.8 813.1 1428.3 819.6 1428.1C827.1 1427.8 832.6 1422.3 832.8 1415.8C832.9 1409.8 828.1 1404.8 820.1 1405.3M855.4 1404.6C847.6 1405.3 838.6 1409.3 838.1 1413.3C838.1 1416.8 855.1 1418.3 855.4 1423.8C855.4 1427.8 847.6 1429.2 843.6 1428.6C840.6 1428 837.6 1426.6 835.9 1424.8M899.8 1417.4C891.6 1414.8 882.1 1420.8 882 1425.8C882 1430.6 887.6 1431 891.6 1427.8C895.6 1424.3 898.6 1420.8 899.8 1417.4C900.1 1422.8 901.6 1427.8 904.3 1429.9M908.3 1417.3L907.6 1429.4M907.9 1424.5C909.8 1420.8 913.8 1416.3 916.4 1416.9C919.3 1417.8 919.8 1425.8 921.1 1429.6M944.5 1417.3C940 1414.3 934 1414.3 930 1416.8C926.5 1419.3 925 1423.3 926 1425.8C927.5 1429.3 933 1429.3 937 1426.8C941 1424.3 944 1420.8 945 1417.3M945.6 1400L946.4 1428.8M972 1417.3L971.3 1429.4M971.6 1424.5C973.5 1420.8 977.5 1416.3 980.1 1416.9C983 1417.8 983.5 1425.8 984.8 1429.6M991.2 1416.8L991.8 1429.8M990.8 1409.2L990.9 1409.7M1001.2 1416.4L1015 1429.2M1018.3 1416C1011 1420.8 1004 1426.8 998.8 1431.6M1021.9 1404.3L1021.6 1430M1021.9 1404.3C1028.3 1405.3 1042.8 1408.8 1043.3 1412.3C1043.3 1415.8 1031.3 1418.3 1024.1 1419.3M1050.4 1417.3L1050.1 1430M1050.5 1424.8C1051.7 1420.8 1055.2 1416.3 1058.2 1416C1060.4 1415.8 1062.2 1416.8 1063.5 1417.8M1076.9 1417C1070.9 1416 1066.4 1419.8 1066.5 1423.6C1066.6 1428.1 1070.9 1430.1 1074.9 1429.9C1079.9 1429.6 1083.1 1426.8 1083.1 1422.8C1083.1 1418.8 1078.9 1416.2 1074.9 1417M1090.9 1416.4L1104.7 1429.2M1108 1416C1100.7 1420.8 1093.7 1426.8 1088.5 1431.6M1111.4 1416.8L1110.9 1429.4M1111.2 1422.8C1112.9 1418.8 1115.9 1416.3 1118.4 1417.3C1120.4 1418.3 1120.4 1424.8 1120.9 1429.4M1120.7 1422.8C1122.4 1418.8 1124.9 1416.3 1127.4 1417.3C1129.9 1418.8 1129.9 1425.8 1131.4 1429.4M1146.7 1417C1140.7 1416 1136.2 1419.8 1136.3 1423.6C1136.4 1428.1 1140.7 1430.1 1144.7 1429.9C1149.7 1429.6 1152.9 1426.8 1152.9 1422.8C1152.9 1418.8 1148.7 1416.2 1144.7 1417M1160.6 1416.4L1174.4 1429.2M1177.7 1416C1170.4 1420.8 1163.4 1426.8 1158.2 1431.6"/></g>
<g role="img" aria-label="Garage S3 (storage)"><title>Garage S3 (storage)</title><path d="M1940.1 1542C1932.7 1544.5 1923.7 1550.5 1923 1557C1922.7 1562.5 1926.7 1564.5 1930.7 1563.5C1935.7 1562 1939.7 1558.5 1941.7 1555.5M1933.1 1553.3C1938.7 1553 1945.7 1554 1950.4 1555.2C1949.2 1559.5 1947.2 1564.5 1946.1 1569.5M1973.5 1553.1C1965.3 1550.5 1955.8 1556.5 1955.7 1561.5C1955.7 1566.3 1961.3 1566.7 1965.3 1563.5C1969.3 1560 1972.3 1556.5 1973.5 1553.1C1973.8 1558.5 1975.3 1563.5 1978 1565.6M1983.7 1553L1983.4 1565.7M1983.8 1560.5C1985 1556.5 1988.5 1552 1991.5 1551.7C1993.7 1551.5 1995.5 1552.5 1996.8 1553.5M2018.3 1553.1C2010.1 1550.5 2000.6 1556.5 2000.5 1561.5C2000.5 1566.3 2006.1 1566.7 2010.1 1563.5C2014.1 1560 2017.1 1556.5 2018.3 1553.1C2018.6 1558.5 2020.1 1563.5 2022.8 1565.6M2040.7 1555C2037.2 1553 2032.2 1553.5 2029.2 1556.5C2026.7 1559 2026.2 1563 2028.2 1564.5C2031.2 1566.5 2037.2 1562.5 2041.4 1556C2040.7 1564.5 2039.2 1573.5 2037 1581.2C2035.2 1583 2030.7 1579.5 2028.4 1576.8M2050.1 1561.2C2055.6 1561 2064.6 1559 2064.6 1556C2064.6 1552.5 2057.6 1551 2053.1 1554C2049.1 1557 2047.4 1562.5 2049.1 1566C2051.6 1570.1 2059.6 1570.3 2067.1 1567.7M2108.1 1540.3C2100.3 1541 2091.3 1545 2090.8 1549C2090.8 1552.5 2107.8 1554 2108.1 1559.5C2108.1 1563.5 2100.3 1564.9 2096.3 1564.3C2093.3 1563.7 2090.3 1562.3 2088.6 1560.5M2114.3 1542.3C2118.5 1541 2128 1541.5 2128.3 1545C2128.5 1548 2122.5 1551 2118.6 1552C2124.5 1552 2133.5 1554.5 2133.7 1559.6C2133.8 1564.5 2125.5 1566.8 2114.3 1565.4M2166.8 1536.8C2160.7 1541.5 2158 1546.5 2158.2 1550.5C2158.5 1556.5 2164.7 1562.5 2171.1 1566.6M2189.4 1549.9C2183.9 1549.5 2177.4 1552 2176.9 1555C2176.9 1558 2190.2 1558.5 2190.4 1562.5C2190.2 1566 2181.9 1566.5 2175.9 1564.7M2193.4 1549.3L2212.6 1546.5M2201.9 1541.1L2203 1560.5C2203.2 1565 2205.5 1566 2207.5 1565.3C2209.8 1564.5 2211.8 1562.5 2212.6 1560.7M2229.1 1552.7C2223.1 1551.7 2218.6 1555.5 2218.7 1559.3C2218.8 1563.8 2223.1 1565.8 2227.1 1565.6C2232.1 1565.3 2235.3 1562.5 2235.3 1558.5C2235.3 1554.5 2231.1 1551.9 2227.1 1552.7M2242 1553L2241.7 1565.7M2242.1 1560.5C2243.3 1556.5 2246.8 1552 2249.8 1551.7C2252 1551.5 2253.8 1552.5 2255.1 1553.5M2276.6 1553.1C2268.4 1550.5 2258.9 1556.5 2258.8 1561.5C2258.8 1566.3 2264.4 1566.7 2268.4 1563.5C2272.4 1560 2275.4 1556.5 2276.6 1553.1C2276.9 1558.5 2278.4 1563.5 2281.1 1565.6M2299 1555C2295.5 1553 2290.5 1553.5 2287.5 1556.5C2285 1559 2284.5 1563 2286.5 1564.5C2289.5 1566.5 2295.5 1562.5 2299.7 1556C2299 1564.5 2297.5 1573.5 2295.3 1581.2C2293.5 1583 2289 1579.5 2286.7 1576.8M2308.4 1561.2C2313.9 1561 2322.9 1559 2322.9 1556C2322.9 1552.5 2315.9 1551 2311.4 1554C2307.4 1557 2305.7 1562.5 2307.4 1566C2309.9 1570.1 2317.9 1570.3 2325.4 1567.7M2327.5 1536.8C2333 1542.5 2337.5 1550.5 2337.2 1556.2C2337 1561 2333 1564.5 2328.6 1566.2"/></g>
</g>
</svg>
</body></html>
